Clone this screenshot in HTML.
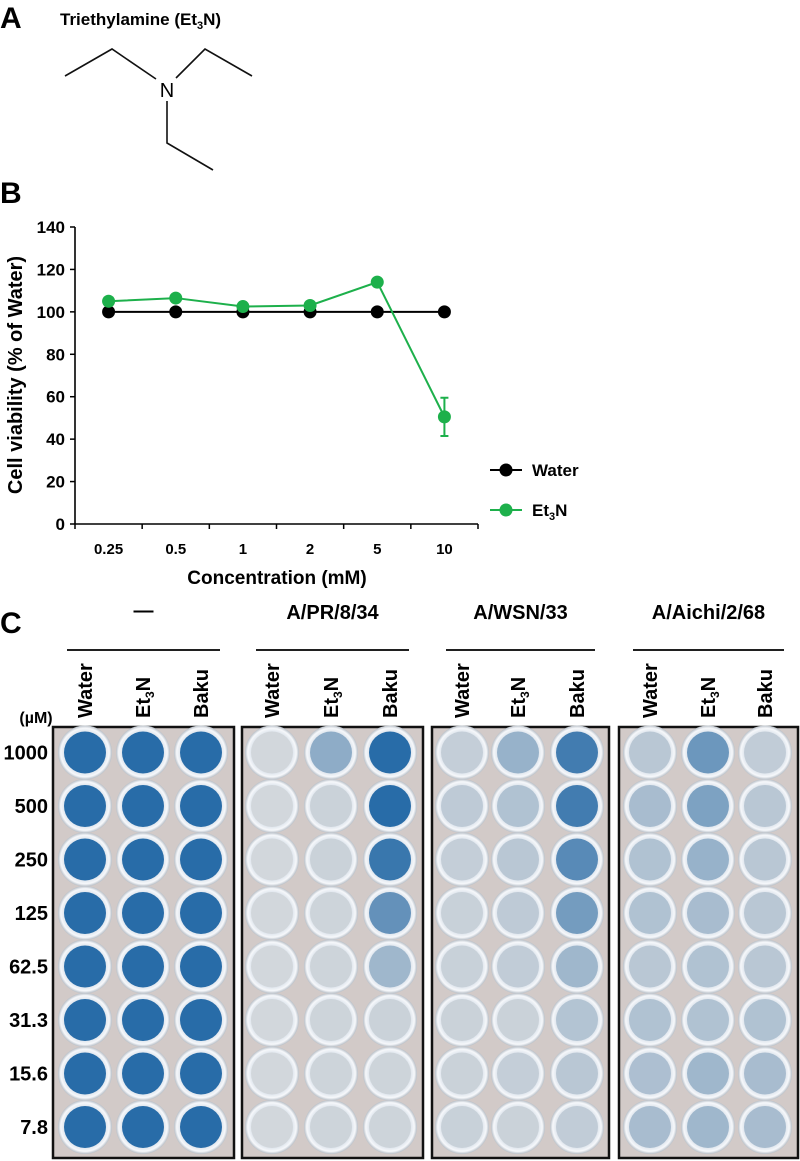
<!DOCTYPE html>
<html><head><meta charset="utf-8"><style>
body{margin:0;background:#fff;}
svg{display:block;font-family:"Liberation Sans",Arial,sans-serif;font-weight:bold;}
</style></head><body>
<svg id="fig" width="800" height="1161" viewBox="0 0 800 1161" xmlns="http://www.w3.org/2000/svg">
<defs>
<radialGradient id="ring" cx="50%" cy="50%" r="50%">
<stop offset="0.78" stop-color="#e2e8ef"/><stop offset="0.9" stop-color="#f6f8fb"/><stop offset="1" stop-color="#b9c0c8"/>
</radialGradient>
</defs>
<text x="0" y="28" font-size="30">A</text>
<text x="60" y="25" font-size="17">Triethylamine (Et<tspan font-size="11" dy="4">3</tspan><tspan dy="-4">N)</tspan></text>
<g stroke="#111" stroke-width="1.6" fill="none">
<polyline points="65,76 112,49 156,79"/>
<polyline points="176,78 205,49 252,76"/>
<polyline points="167,101 167,143 213,170"/>
</g>
<text x="167" y="97" font-size="20" font-weight="normal" text-anchor="middle">N</text>
<text x="0" y="203" font-size="30">B</text>
<g id="chart"></g>
<text x="0" y="633" font-size="30">C</text>
<g id="plates"></g>
</svg>
<script>
const categories = ["0.25","0.5","1","2","5","10"];
const waterValues = [100,100,100,100,100,100];
const et3nValues = [105,106.5,102.5,103,114,50.5];
const et3nErrors = [1,1.5,0.5,0.5,0.8,9];
const yTicks = [0,20,40,60,80,100,120,140];

const NS="http://www.w3.org/2000/svg";
function mk(tag, attrs, parent){const e=document.createElementNS(NS,tag);for(const k in attrs)e.setAttribute(k,attrs[k]);parent.appendChild(e);return e;}
const chart=document.getElementById('chart');
const X0=75, X1=478, Y0=524, Y1=227, YMAX=140;
const band=(X1-X0)/categories.length;
const xPos=i=>X0+band*(i+0.5);
const yPos=v=>Y0-(v/YMAX)*(Y0-Y1);

let a=mk('line',{x1:X0,y1:Y1,x2:X0,y2:Y0,stroke:'#000','stroke-width':1.6},chart);


a=mk('line',{x1:X0,y1:Y0,x2:X1,y2:Y0,stroke:'#000','stroke-width':1.6},chart);


yTicks.forEach(t=>{
  const y=yPos(t);
  const l=mk('line',{x1:X0-5,y1:y,x2:X0,y2:y,stroke:'#000','stroke-width':1.5},chart);
  
  
  const tx=mk('text',{x:X0-10,y:y+6,'font-size':17,'text-anchor':'end'},chart);
  tx.textContent=t;
  
  
});
for(let i=0;i<=categories.length;i++){
  const x=X0+band*i;
  const l=mk('line',{x1:x,y1:Y0,x2:x,y2:Y0+5,stroke:'#000','stroke-width':1.5},chart);
  
  
}
categories.forEach((c,i)=>{
  const tx=mk('text',{x:xPos(i),y:554,'font-size':15,'text-anchor':'middle'},chart);
  tx.textContent=c;
  
  
});
let t=mk('text',{x:277,y:584,'font-size':19,'text-anchor':'middle'},chart);
t.textContent='Concentration (mM)';


t=mk('text',{x:0,y:0,'font-size':20,'text-anchor':'middle',transform:'translate(22,375) rotate(-90)'},chart);
t.textContent='Cell viability (% of Water)';



function series(vals,color,name){
  const pl=mk('polyline',{points:vals.map((v,i)=>xPos(i)+','+yPos(v)).join(' '),fill:'none',stroke:color,'stroke-width':2},chart);
  
  
  vals.forEach((v,i)=>{
    const c=mk('circle',{cx:xPos(i),cy:yPos(v),r:6.5,fill:color},chart);
    
    
  });
}
series(waterValues,'#000','water');
et3nValues.forEach((v,i)=>{
  const e=et3nErrors[i], x=xPos(i);
  const g=mk('path',{d:`M${x},${yPos(v-e)}V${yPos(v+e)}M${x-4},${yPos(v-e)}h8M${x-4},${yPos(v+e)}h8`,stroke:'#1db04b','stroke-width':2,fill:'none'},chart);
  
  
});
series(et3nValues,'#1db04b','et3n');
[['Water','#000',470],['Et3N','#1db04b',510]].forEach(([n,c,y])=>{
  const l=mk('line',{x1:490,y1:y,x2:522,y2:y,stroke:c,'stroke-width':2},chart);
  
  
  const d=mk('circle',{cx:506,cy:y,r:6.5,fill:c},chart);
  
  
  const tx=mk('text',{x:532,y:y+6,'font-size':17},chart);
  if(n==='Et3N'){tx.innerHTML='Et<tspan font-size="11" dy="4">3</tspan><tspan dy="-4">N</tspan>';}else tx.textContent=n;
  
  
});

const doses=["1000","500","250","125","62.5","31.3","15.6","7.8"];
const plateNames=["—","A/PR/8/34","A/WSN/33","A/Aichi/2/68"];
const stain=[
 [[1,1,1,1,1,1,1,1],[1,1,1,1,1,1,1,1],[1,1,1,1,1,1,1,1]],
 [[0,0,0,0,0,0,0,0],[.4,.05,.05,.03,.03,.03,.03,.03],[1,1,.9,.65,.3,.05,.03,.03]],
 [[.08,.12,.08,.06,.06,.05,.05,.06],[.35,.2,.15,.12,.1,.05,.08,.05],[.85,.85,.72,.55,.3,.18,.15,.1]],
 [[.15,.25,.2,.2,.15,.2,.22,.25],[.6,.5,.35,.25,.2,.2,.3,.3],[.1,.15,.15,.15,.15,.2,.25,.25]]
];
const plates=document.getElementById('plates');
const boxes=[[53,234],[242,423],[432,609],[619,798]];
const colX=[[85,143,201],[272,331,390],[462,518,577],[650,708,765]];
const rowY=doses.map((d,i)=>752.5+53.5*i);
let u=mk('text',{x:36,y:723,'font-size':16,'text-anchor':'middle'},plates);
u.textContent='(µM)';


doses.forEach((d,i)=>{
  const tx=mk('text',{x:48,y:rowY[i]+7,'font-size':20,'text-anchor':'end'},plates);
  tx.textContent=d;
  
  
});
function mix(s){const p=[210,215,220],b=[40,108,168];return 'rgb('+p.map((v,k)=>Math.round(v+(b[k]-v)*s)).join(',')+')';}
plateNames.forEach((pn,p)=>{
  const [bx0,bx1]=boxes[p];
  const cx=(bx0+bx1)/2;
  const h=mk('text',{x:cx,y:p===0?617:619,'font-size':20,'text-anchor':'middle'},plates);
  h.textContent=pn;
  
  
  const ln=mk('line',{x1:bx0+14,y1:650,x2:bx1-14,y2:650,stroke:'#000','stroke-width':1.8},plates);
  
  
  ['Water','Et3N','Baku'].forEach((c,j)=>{
    const x=colX[p][j];
    const tx=mk('text',{x:0,y:0,'font-size':20,transform:`translate(${x+7},718) rotate(-90)`},plates);
    if(c==='Et3N'){tx.innerHTML='Et<tspan font-size="12" dy="4">3</tspan><tspan dy="-4">N</tspan>';}else tx.textContent=c;
    
    
  });
  const r=mk('rect',{x:bx0,y:727,width:bx1-bx0,height:431,fill:'#d2cac8',stroke:'#111','stroke-width':2.5},plates);
  
  
  for(let j=0;j<3;j++)for(let i=0;i<8;i++){
    const w=mk('circle',{cx:colX[p][j],cy:rowY[i],r:27,fill:'url(#ring)'},plates);
    
    
    const s=mk('circle',{cx:colX[p][j],cy:rowY[i],r:21,fill:mix(stain[p][j][i])},plates);
    
    
  }
});
</script>
</body></html>
